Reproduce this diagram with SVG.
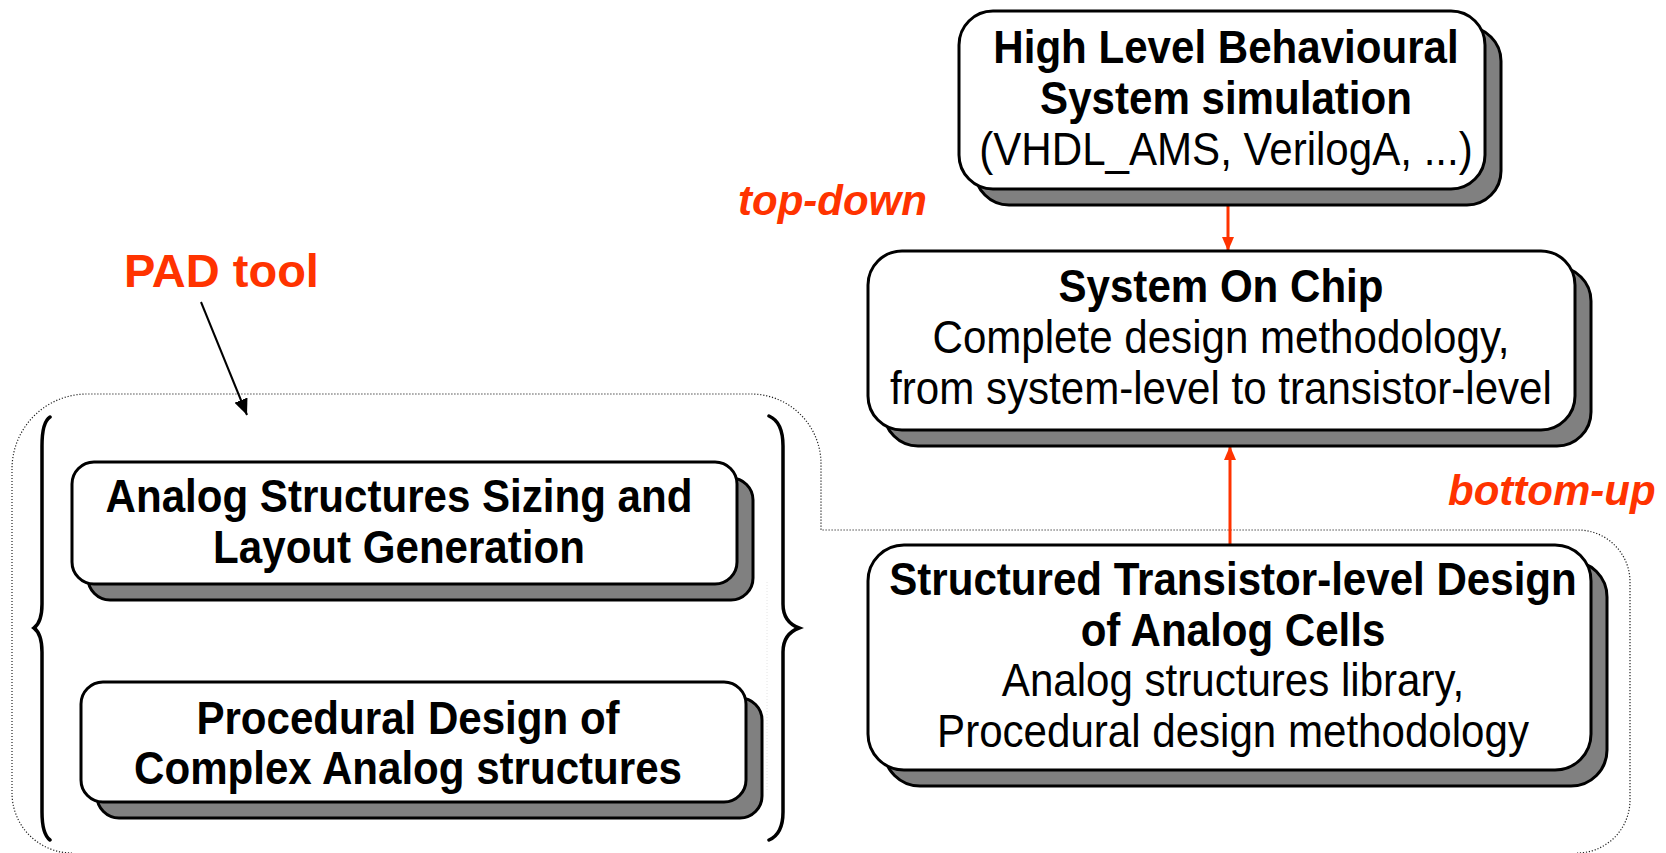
<svg xmlns="http://www.w3.org/2000/svg" width="1666" height="853" viewBox="0 0 1666 853">
  <style>
    .box { fill: #ffffff; stroke: #000000; stroke-width: 3; }
    .shadow { fill: #808080; stroke: #000000; stroke-width: 3; }
    .b { font-family: "Liberation Sans", Arial, sans-serif; font-weight: bold; font-size: 46px; fill: #000000; text-anchor: middle; }
    .r { font-family: "Liberation Sans", Arial, sans-serif; font-size: 46px; fill: #000000; text-anchor: middle; }
    .note { font-family: "Liberation Sans", Arial, sans-serif; font-weight: bold; font-style: italic; font-size: 42px; fill: #ff3300; }
    .pad { font-family: "Liberation Sans", Arial, sans-serif; font-weight: bold; font-size: 47px; fill: #ff3300; }
    .dots { fill: none; stroke: #222222; stroke-width: 1.2; stroke-dasharray: 1.2 1.8; }
    .brace { fill: none; stroke: #000000; stroke-width: 3.5; stroke-linecap: round; }
    .flow { fill: none; stroke: #ff3300; stroke-width: 3; }
    .ptr { fill: none; stroke: #000000; stroke-width: 2; }
  </style>
  <defs>
    <marker id="headRed" viewBox="0 0 14 12" refX="14" refY="6" markerWidth="14" markerHeight="12" markerUnits="userSpaceOnUse" orient="auto">
      <path d="M0 0 L14 6 L0 12 Z" fill="#ff3300"/>
    </marker>
    <marker id="headBlack" viewBox="0 0 16 14" refX="16" refY="7" markerWidth="16" markerHeight="14" markerUnits="userSpaceOnUse" orient="auto">
      <path d="M0 0 L16 7 L0 14 Z" fill="#000000"/>
    </marker>
  </defs>

  <!-- dotted region enclosing the PAD tool scope -->
  <g id="scope">
    <path class="dots" d="M 72 853 A 60 60 0 0 1 12 793 L 12 469 A 75 75 0 0 1 87 394 L 751 394 A 70 70 0 0 1 821 464 L 821 530 L 1578 530 A 52 52 0 0 1 1630 582 L 1630 800 A 53 53 0 0 1 1577 853"/>
    <line x1="767" y1="582" x2="767" y2="790" stroke="#e4e4e4" stroke-width="1" stroke-dasharray="1 2"/>
  </g>

  <!-- curly braces around the two PAD tasks -->
  <g id="braces">
    <path class="brace" d="M 50 417 Q 42 422 42 446 L 42 604 Q 42 622 34 628 Q 42 634 42 652 L 42 812 Q 42 834 50 840"/>
    <path class="brace" d="M 769 416 Q 783 422 783 446 L 783 604 Q 783 622 799 628 Q 783 634 783 652 L 783 812 Q 783 834 769 840"/>
  </g>

  <g id="connectors">
    <line class="flow" x1="1228" y1="205" x2="1228" y2="251" marker-end="url(#headRed)"/>
    <line class="flow" x1="1230" y1="545" x2="1230" y2="446" marker-end="url(#headRed)"/>
    <line class="ptr" x1="201" y1="302" x2="247" y2="415" marker-end="url(#headBlack)"/>
  </g>

  <g id="labels">
    <text class="pad" x="124" y="287">PAD tool</text>
    <text class="note" x="738" y="215">top-down</text>
    <text class="note" x="1448" y="505">bottom-up</text>
  </g>

  <g id="high-level">
    <rect class="shadow" x="975" y="27" width="526" height="178" rx="34"/>
    <rect class="box" x="959" y="11" width="526" height="178" rx="34"/>
    <g transform="translate(1226 0) scale(0.915 1)">
      <text class="b" x="0" y="63">High Level Behavioural</text>
      <text class="b" x="0" y="114">System simulation</text>
      <text class="r" x="0" y="165">(VHDL_AMS, VerilogA, ...)</text>
    </g>
  </g>

  <g id="soc">
    <rect class="shadow" x="884" y="267" width="707" height="179" rx="34"/>
    <rect class="box" x="868" y="251" width="707" height="179" rx="34"/>
    <g transform="translate(1221 0) scale(0.915 1)">
      <text class="b" x="0" y="302">System On Chip</text>
      <text class="r" x="0" y="353">Complete design methodology,</text>
      <text class="r" x="0" y="404">from system-level to transistor-level</text>
    </g>
  </g>

  <g id="structured">
    <rect class="shadow" x="884" y="561" width="723" height="225" rx="36"/>
    <rect class="box" x="868" y="545" width="723" height="225" rx="36"/>
    <g transform="translate(1233 0) scale(0.915 1)">
      <text class="b" x="0" y="595">Structured Transistor-level Design</text>
      <text class="b" x="0" y="646">of Analog Cells</text>
      <text class="r" x="0" y="696">Analog structures library,</text>
      <text class="r" x="0" y="747">Procedural design methodology</text>
    </g>
  </g>

  <g id="sizing">
    <rect class="shadow" x="88" y="478" width="665" height="122" rx="22"/>
    <rect class="box" x="72" y="462" width="665" height="122" rx="22"/>
    <g transform="translate(399 0) scale(0.915 1)">
      <text class="b" x="0" y="512">Analog Structures Sizing and</text>
      <text class="b" x="0" y="563">Layout Generation</text>
    </g>
  </g>

  <g id="procedural">
    <rect class="shadow" x="97" y="698" width="665" height="120" rx="22"/>
    <rect class="box" x="81" y="682" width="665" height="120" rx="22"/>
    <g transform="translate(408 0) scale(0.915 1)">
      <text class="b" x="0" y="734">Procedural Design of</text>
      <text class="b" x="0" y="784">Complex Analog structures</text>
    </g>
  </g>
</svg>
